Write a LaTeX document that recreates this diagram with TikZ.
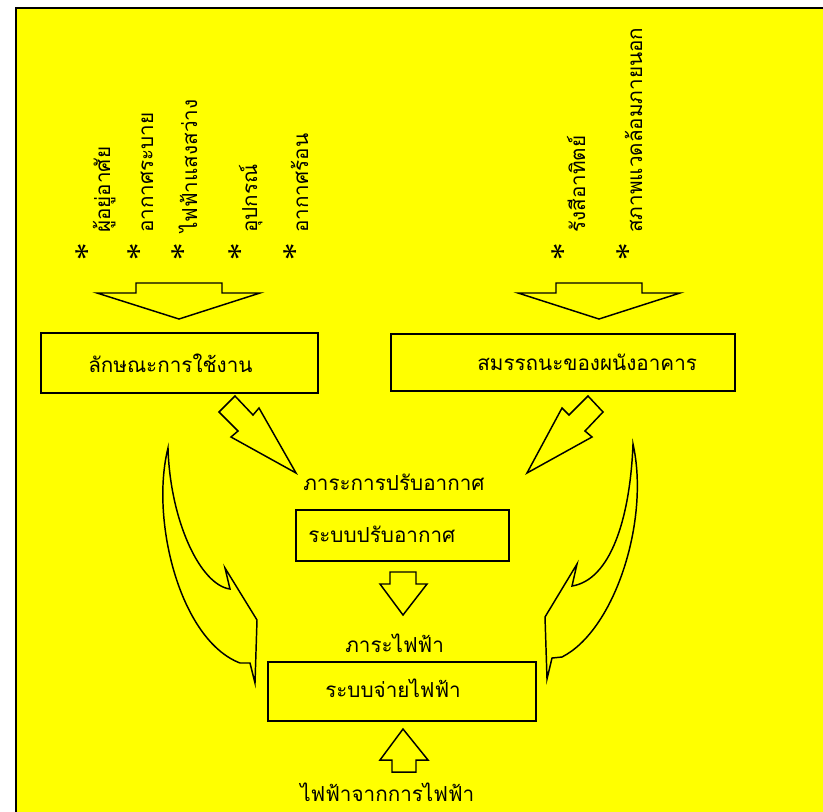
\documentclass[tikz,border=0pt]{standalone}
\usepackage{fontspec}
\setmainfont{Liberation Serif}
\newfontfamily\thai[Script=Thai]{Loma}
\definecolor{bg}{RGB}{255,255,0}
\tikzset{
  tx/.style={font=\thai\fontsize{15.5pt}{18pt}\selectfont, inner sep=0pt, anchor=base west},
  vt/.style={tx, rotate=90},
  ast/.style={font=\fontsize{26pt}{28pt}\selectfont, inner sep=0pt, rotate=90},
  box/.style={draw, line width=1.2pt, inner sep=0pt},
  blk/.style={draw, line width=1.1pt, line join=miter},
}
\begin{document}
\begin{tikzpicture}[x=0.75pt,y=-0.75pt]
\useasboundingbox (0,0) rectangle (823,811);
\begin{scope}
\clip (0,0) rectangle (823,811);
\fill[white] (0,0) rectangle (823,811);
\draw[fill=bg, line width=1.5pt] (16,8) rectangle (840,830);
\end{scope}

% vertical texts
\node[vt] (v1) at (110,233) {ผู้อยู่อาศัย};
\node[vt] (v2) at (153,233) {อากาศระบาย};
\node[vt] (v3) at (197,233) {ไฟฟ้าแสงสว่าง};
\node[vt] (v4) at (257,233) {อุปกรณ์};
\node[vt] (v5) at (308,233) {อากาศร้อน};
\node[vt] (v6) at (585,233) {รังสีอาทิตย์};
\node[vt] (v7) at (642,233) {สภาพแวดล้อมภายนอก};
\node[ast] (a1) at (87,252) {*};
\node[ast] (a2) at (139,252) {*};
\node[ast] (a3) at (183,252) {*};
\node[ast] (a4) at (240,252) {*};
\node[ast] (a5) at (295,252) {*};
\node[ast] (a6) at (563,252) {*};
\node[ast] (a7) at (628,252) {*};

% top block arrows
\draw[blk] (136,283) -- (222,283) -- (222,293) -- (260,293) -- (179,319) -- (97,293) -- (136,293) -- cycle;
\draw[blk] (556,283) -- (642,283) -- (642,293) -- (680,293) -- (599,319) -- (518,293) -- (556,293) -- cycle;

% boxes
\node[box, minimum width=207.75pt, minimum height=45pt] (use) at (179.5,363) {};
\node[tx] (uset) at (88,372) {ลักษณะการใช้งาน};
\node[box, minimum width=258pt, minimum height=42.75pt] (wall) at (563,362.5) {};
\node[tx] (wallt) at (477,370) {สมรรถนะของผนังอาคาร};

% diagonal block arrows
\draw[blk] (235,396) -- (253,415) -- (259,408) -- (296,473) -- (231,437) -- (238,431) -- (219,412) -- cycle;
\draw[blk] (588,396) -- (569,415) -- (562,408) -- (527,473) -- (592,437) -- (585,431) -- (603,412) -- cycle;

% cooling load
\node[tx] (cl) at (303,490) {ภาระการปรับอากาศ};
\node[box, minimum width=159.75pt, minimum height=38.25pt] (ac) at (402.5,535.5) {};
\node[tx] (act) at (308,542) {ระบบปรับอากาศ};

\draw[blk] (390,572) -- (416,572) -- (416,584) -- (427,584) -- (403,615) -- (380,584) -- (390,584) -- cycle;

\node[tx] (el) at (345,652) {ภาระไฟฟ้า};
\node[box, minimum width=201pt, minimum height=44.25pt] (dist) at (402,691.5) {};
\node[tx] (distt) at (325,697) {ระบบจ่ายไฟฟ้า};

\draw[blk] (392,772) -- (416,772) -- (416,760) -- (428,760) -- (403,729) -- (380,760) -- (392,760) -- cycle;
\node[tx] (src) at (300,801) {ไฟฟ้าจากการไฟฟ้า};

% curved arrows
\draw[blk] (168,448) .. controls (170,520) and (200,585) .. (230,589) -- (225,568) -- (257,620) -- (255,683) -- (250,663) -- (240,663) .. controls (180,640) and (150,520) .. (168,448) -- cycle;
\draw[blk] (633,444) .. controls (650,520) and (615,630) .. (562,657) -- (552,658) -- (547,679) -- (545,617) -- (577,564) -- (572,586) .. controls (610,580) and (630,520) .. (633,444) -- cycle;
\end{tikzpicture}
\end{document}
